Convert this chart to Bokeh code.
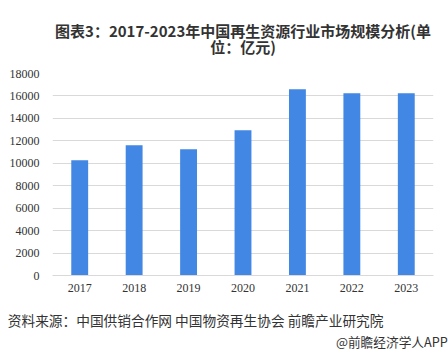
from bokeh.plotting import figure
from bokeh.models import ColumnDataSource, Title, FixedTicker, NumeralTickFormatter
from bokeh.embed import file_html
from bokeh.resources import INLINE

years = ["2017", "2018", "2019", "2020", "2021", "2022", "2023"]
values = [10260, 11600, 11250, 12940, 16600, 16240, 16240]
y_ticks = [0, 2000, 4000, 6000, 8000, 10000, 12000, 14000, 16000, 18000]

title_line1 = "图表3：2017-2023年中国再生资源行业市场规模分析(单"
title_line2 = "位：亿元)"
source_text = "资料来源：中国供销合作网 中国物资再生协会 前瞻产业研究院"
credit_text = "@前瞻经济学人APP"

W, H = 448, 356
src = ColumnDataSource(dict(year=years, value=values))

p = figure(width=W, height=H, x_range=years, y_range=(0, 18000),
           output_backend="svg", toolbar_location=None,
           min_border_left=52, min_border_right=15,
           min_border_top=73, min_border_bottom=81)
p.outline_line_color = None
p.background_fill_color = "white"
p.border_fill_color = "white"

p.vbar(x="year", top="value", width=0.31, source=src,
       fill_color="#4187E3", line_color=None)

p.xgrid.grid_line_color = None
p.ygrid.grid_line_color = "#D9D9D9"
p.ygrid.grid_line_width = 1
p.yaxis.ticker = FixedTicker(ticks=y_ticks)
p.yaxis.formatter = NumeralTickFormatter(format="0")
p.yaxis.axis_line_color = None
p.yaxis.major_tick_line_color = None
p.yaxis.minor_tick_line_color = None
p.yaxis.major_tick_out = 0
p.yaxis.minor_tick_out = 0
p.yaxis.major_label_standoff = 13
p.yaxis.major_label_text_font = "Liberation Serif"
p.yaxis.major_label_text_font_size = "12px"
p.yaxis.major_label_text_color = "#333333"

p.xaxis.axis_line_color = "#D9D9D9"
p.xaxis.major_tick_line_color = None
p.xaxis.minor_tick_line_color = None
p.xaxis.major_tick_out = 0
p.xaxis.minor_tick_out = 0
p.xaxis.major_label_standoff = 8
p.xaxis.major_label_text_font = "Liberation Serif"
p.xaxis.major_label_text_font_size = "12px"
p.xaxis.major_label_text_color = "#333333"

def make_title(txt, size, align, bold, offset=0, standoff=0, valign="bottom", color="#333333"):
    return Title(text=txt, align=align, offset=offset, standoff=standoff,
                 vertical_align=valign,
                 text_font="Noto Sans CJK SC", text_font_size=size,
                 text_font_style="bold" if bold else "normal",
                 text_color=color)

# above panels, nearest the frame first (first one is a white spacer)
p.add_layout(make_title(".", "15px", "center", True, standoff=12.78, color="white"), "above")
p.add_layout(make_title(title_line2, "15px", "center", True, standoff=-23.72, valign="top"), "above")
p.add_layout(make_title(title_line1, "15px", "center", True, standoff=12.8), "above")

# below panels, after the x axis
p.add_layout(make_title(source_text, "13.7px", "left", False, offset=-44.7, standoff=26), "below")
p.add_layout(make_title(credit_text, "12.7px", "right", False, offset=-14.3, standoff=-20.39, valign="top"), "below")

open("out.html", "w").write(file_html(p, INLINE))
